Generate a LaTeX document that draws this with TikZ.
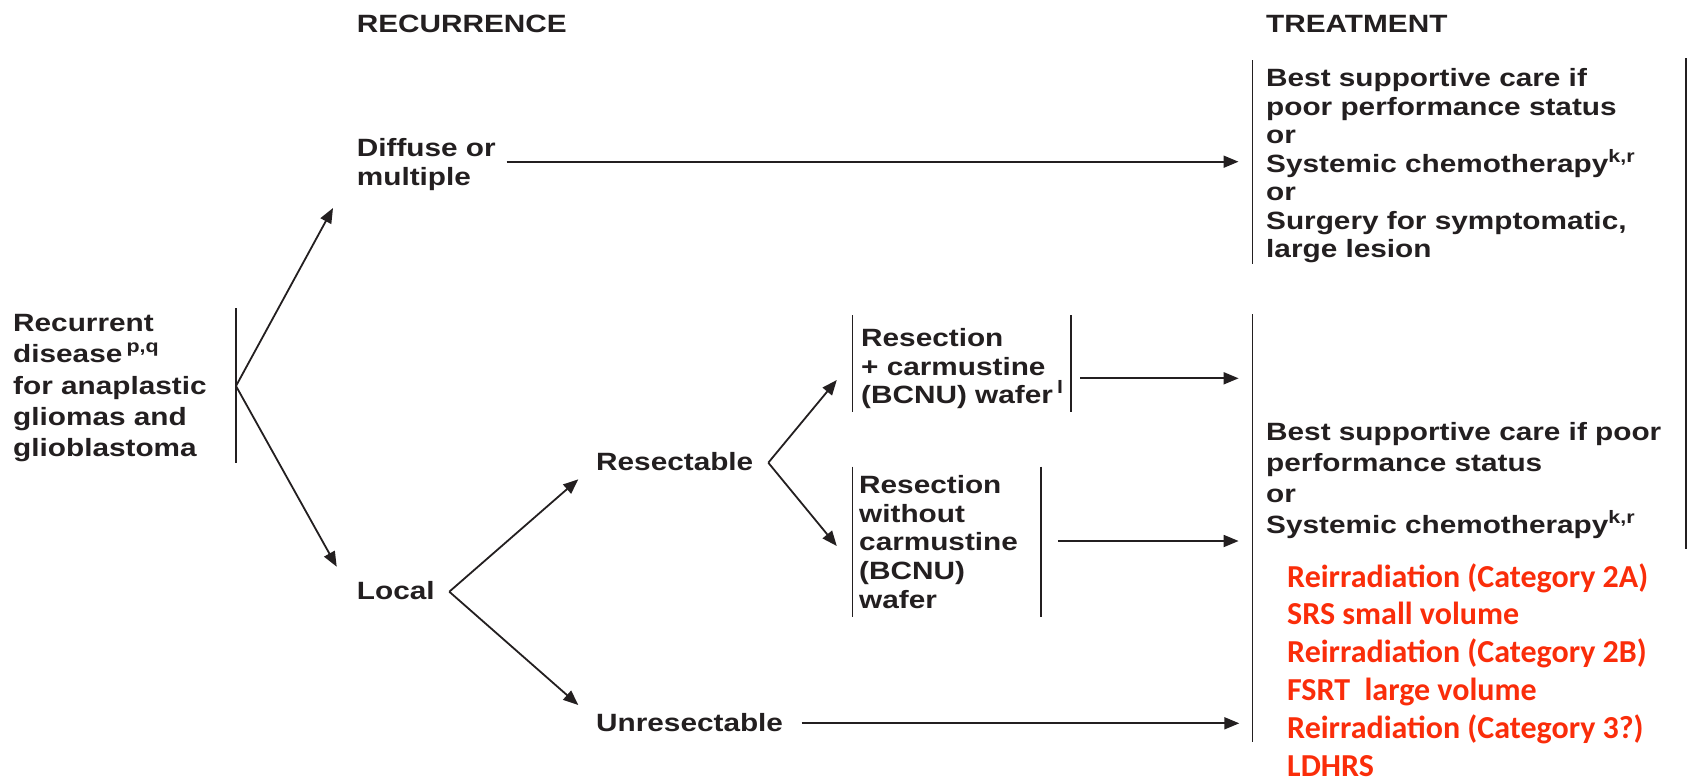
\documentclass[tikz,border=0pt]{standalone}
\usepackage{fontspec}
\usetikzlibrary{arrows.meta}
\newfontfamily\nccn{Liberation Sans}[FakeStretch=1.19]
\newfontfamily\calib{Carlito}
\definecolor{ink}{RGB}{35,31,32}
\definecolor{note}{RGB}{250,45,10}
% small raised footnote letters
\newcommand\sups[1]{\smash{\raisebox{0.40em}{\fontsize{18}{18}\selectfont #1}}}
% a left-aligned block of lines whose reference point is the first baseline
\newcommand\txtlines[2]{\fontsize{25}{#1}\selectfont\begin{tabular}[t]{@{}l@{}}#2\end{tabular}}
\tikzset{
  lbl/.style={anchor=base west, inner sep=0pt, font=\nccn\bfseries, text=ink},
  redlbl/.style={anchor=south west, inner sep=0pt, align=left, font=\calib\bfseries\fontsize{32}{37.9}\selectfont, text=note},
  arrowline/.style={draw=ink, line width=1.8pt, -{Triangle[length=15pt,width=12pt]}},
  barline/.style={draw=ink, line width=1.5pt},
}
\begin{document}
\begin{tikzpicture}[x=1pt, y=-1pt]
\useasboundingbox (0,0) rectangle (1690,782);

% column headings
\node[lbl] (hrec) at (356.7,32) {\fontsize{25}{30}\selectfont RECURRENCE};
\node[lbl] (htreat) at (1266,32) {\fontsize{25}{30}\selectfont TREATMENT};

% starting condition
\node[lbl] (start) at (13,331.7) {\txtlines{31.25}{Recurrent\\ disease\,\sups{p,q}\\ for anaplastic\\ gliomas and\\ glioblastoma}};
\coordinate (sbarT) at (236,308);
\coordinate (sbarB) at (236,463);
\draw[barline] (sbarT) -- (sbarB);
\coordinate (f1) at (236,386);

% recurrence types
\node[lbl] (diffuse) at (356.7,156.7) {\txtlines{28.3}{Diffuse or\\ multiple}};
\node[lbl] (local) at (356.7,599.3) {\fontsize{25}{30}\selectfont Local};
\coordinate (diffuseIn) at (333,208);
\coordinate (localIn) at (336.7,566.7);
\draw[arrowline] (f1) -- (diffuseIn);
\draw[arrowline] (f1) -- (localIn);

% local branches
\node[lbl] (resect) at (596,470.7) {\fontsize{25}{30}\selectfont Resectable};
\node[lbl] (unresect) at (596,731.7) {\fontsize{25}{30}\selectfont Unresectable};
\coordinate (f2) at (449.3,591.7);
\coordinate (resectIn) at (578.3,479.3);
\coordinate (unresectIn) at (578.3,705);
\draw[arrowline] (f2) -- (resectIn);
\draw[arrowline] (f2) -- (unresectIn);

% resection options
\node[lbl] (wafer) at (861,346.7) {\txtlines{28.5}{Resection\\ + carmustine\\ (BCNU) wafer\,\sups{l}}};
\draw[barline] (852.4,315) -- (852.4,411.7);
\draw[barline] (1071,315) -- (1071,411.7);
\node[lbl] (nowafer) at (859,493.3) {\txtlines{28.7}{Resection\\ without\\ carmustine\\ (BCNU)\\ wafer}};
\draw[barline] (852.4,466.7) -- (852.4,617.3);
\draw[barline] (1040.8,466.7) -- (1040.8,617.3);
\coordinate (f3) at (768.3,462.7);
\coordinate (waferIn) at (836.8,380);
\coordinate (nowaferIn) at (836.8,546);
\draw[arrowline] (f3) -- (waferIn);
\draw[arrowline] (f3) -- (nowaferIn);

% treatment for diffuse disease
\node[lbl] (treatA) at (1266,86.7) {\txtlines{28.5}{Best supportive care if\\ poor performance status\\ or\\ Systemic chemotherapy\sups{k,r}\\ or\\ Surgery for symptomatic,\\ large lesion}};
\draw[barline] (1252.7,60) -- (1252.7,264);
\draw[barline] (1686,58) -- (1686,549);

% treatment for local disease
\node[lbl] (treatB) at (1266,440) {\txtlines{31}{Best supportive care if poor\\ performance status\\ or\\ Systemic chemotherapy\sups{k,r}}};
\draw[barline] (1252.7,314) -- (1252.7,741.7);
\node[redlbl] (reirr) at (1287,777) {Reirradiation (Category 2A)\\ SRS small volume\\ Reirradiation (Category 2B)\\ FSRT\ \ large volume\\ Reirradiation (Category 3?)\\ LDHRS};

% arrows into the treatment column
\coordinate (treatAIn) at (1238.5,161.7);
\coordinate (diffuseOut) at (506.7,161.7);
\draw[arrowline] (diffuseOut) -- (treatAIn);
\coordinate (waferOut) at (1080,378.3);
\coordinate (waferTo) at (1238.6,378.3);
\draw[arrowline] (waferOut) -- (waferTo);
\coordinate (nowaferOut) at (1057.8,541);
\coordinate (nowaferTo) at (1238.6,541);
\draw[arrowline] (nowaferOut) -- (nowaferTo);
\coordinate (unresectOut) at (801.7,723.3);
\coordinate (unresectTo) at (1239.3,723.3);
\draw[arrowline] (unresectOut) -- (unresectTo);
\end{tikzpicture}
\end{document}
